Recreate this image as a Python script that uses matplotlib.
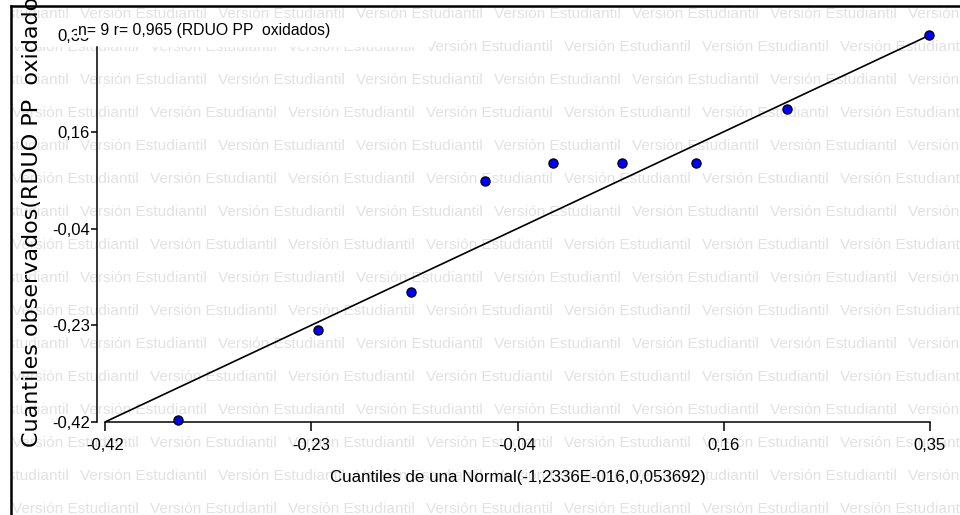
import matplotlib
matplotlib.use("Agg")
import matplotlib.pyplot as plt
from matplotlib import font_manager
from matplotlib.lines import Line2D
from matplotlib.patches import Rectangle

# QQ plot data
normal_q = [-0.352, -0.221, -0.134, -0.065, -0.002, 0.0625, 0.1316, 0.2165, 0.349]
observed_q = [-0.416, -0.237, -0.161, 0.060, 0.095, 0.095, 0.095, 0.203, 0.350]

axis_min, axis_max = -0.42, 0.35
tick_vals = [-0.42, -0.2275, -0.035, 0.1575, 0.35]
tick_labels = ["-0,42", "-0,23", "-0,04", "0,16", "0,35"]

title_txt = "n= 9 r= 0,965 (RDUO PP  oxidados)"
xlabel_txt = "Cuantiles de una Normal(-1,2336E-016,0,053692)"
ylabel_txt = "Cuantiles observados(RDUO PP  oxidados)"
watermark = "Versión Estudiantil"

W, H = 960, 515

names = {f.name for f in font_manager.fontManager.ttflist}
if "Liberation Sans Narrow" in names:
    narrow, shrink = "Liberation Sans Narrow", 1.0
else:
    # no condensed face: keep the widths by going a bit smaller
    narrow, shrink = "Liberation Sans", 0.82


def fx(px):
    return px / W


def fy(py):
    return 1 - py / H


fig = plt.figure(figsize=(W / 100, H / 100), dpi=100)

# watermark layer, clipped to the inside of the frame
bg = fig.add_axes([fx(12), 0, (W - 12) / W, (H - 7) / H], zorder=0)
bg.set_xlim(12, W)
bg.set_ylim(H, 7)
bg.axis("off")
for k in range(9):
    for row_y, row_x in ((14 + 66 * k, 80), (47 + 66 * k, 12)):
        for j in range(-1, 8):
            bg.text(row_x + 138 * j, row_y, watermark, fontsize=13.5 * shrink, family=narrow,
                    color="#e2e2e2", ha="left", va="center", clip_on=True)
bg.add_patch(Rectangle((12, 22), 420, 25, facecolor="white", edgecolor="none", zorder=5))

# main plot
ax = fig.add_axes([fx(105), fy(422), (930 - 105) / W, (422 - 35) / H], zorder=1)
ax.patch.set_alpha(0)
ax.set_xlim(axis_min, axis_max)
ax.set_ylim(axis_min, axis_max)

ax.plot([axis_min, axis_max], [axis_min, axis_max], color="black", lw=1.2, zorder=3)
ax.plot(normal_q, observed_q, linestyle="none", marker="o", ms=6.6,
        mfc="#0000ff", mec="black", mew=0.9, clip_on=False, zorder=4)

ax.spines["top"].set_visible(False)
ax.spines["right"].set_visible(False)
ax.spines["left"].set_position(("outward", 5.8))
ax.spines["left"].set_bounds(axis_min, axis_max - 12 / 387 * (axis_max - axis_min))
for s in ("left", "bottom"):
    ax.spines[s].set_linewidth(1.1)

ax.set_xticks(tick_vals)
ax.set_xticklabels(tick_labels)
ax.set_yticks(tick_vals)
ax.set_yticklabels(tick_labels)
ax.tick_params(axis="x", length=6.5, width=1.1, pad=5, labelsize=14.6 * shrink)
ax.tick_params(axis="y", length=4.3, width=1.1, pad=0.8, labelsize=14.6 * shrink)
for lab in ax.get_xticklabels() + ax.get_yticklabels():
    lab.set_family(narrow)
ax.yaxis.get_major_ticks()[-1].tick1line.set_visible(False)

ax.set_xlabel(xlabel_txt, fontsize=14.8 * shrink, family=narrow, labelpad=12)

ax.text(fx(78), fy(30), title_txt, transform=fig.transFigure, fontsize=13.8 * shrink,
        family=narrow, ha="left", va="center", zorder=6,
        bbox=dict(facecolor="white", edgecolor="none", pad=0.5))

fig.text(fx(38), fy(447), ylabel_txt, rotation=90, rotation_mode="anchor",
         ha="left", va="baseline", fontsize=16, family="DejaVu Sans")

# outer frame (left and top only visible)
fig.add_artist(Line2D([fx(11), fx(11)], [0, fy(6)], color="black", lw=1.8,
                      transform=fig.transFigure))
fig.add_artist(Line2D([fx(11), 1], [fy(6), fy(6)], color="black", lw=1.8,
                      transform=fig.transFigure))

fig.savefig("out.png", dpi=100)
